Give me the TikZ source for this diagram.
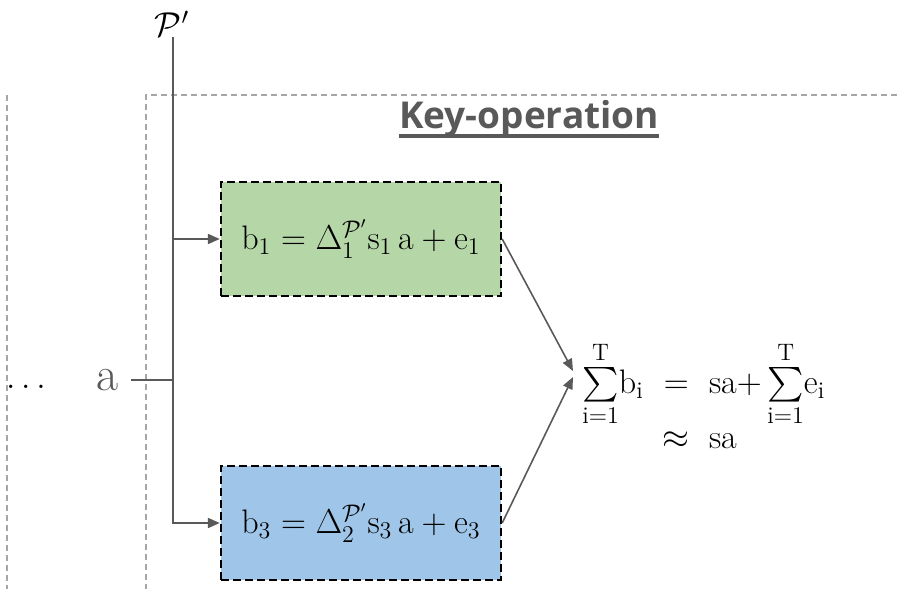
\documentclass[tikz,border=0pt]{standalone}
\usepackage{amsmath}
\usepackage{fontspec}
\usepackage{tikz}
\usetikzlibrary{arrows.meta,positioning}
\newfontfamily\headfont{Open Sans}
\definecolor{wiregray}{HTML}{595959}
\definecolor{framegray}{HTML}{A6A6A6}
\definecolor{opgreen}{HTML}{B5D7A8}
\definecolor{opblue}{HTML}{9FC5E8}

\begin{document}
\begin{tikzpicture}[x=0.5pt, y=-0.5pt,
  every node/.style={font=\fontsize{17}{20}\selectfont, inner sep=0pt},
  frame/.style={draw=framegray, line width=1pt, dash pattern=on 3pt off 2pt},
  opbox/.style={rectangle, draw=black, line width=1.2pt, dash pattern=on 4pt off 2pt,
    minimum width=140pt, minimum height=57pt},
  wire/.style={draw=wiregray, line width=1pt},
  a/.style={wire, -{Triangle[length=6pt, width=5pt]}},
  ain/.style={draw=wiregray, line width=0.8pt, -{Triangle[length=6pt, width=5pt]}}
]
\useasboundingbox (0,0) rectangle (902,589);

% dashed frames
\draw[frame] (7,95) -- (7,589);
\draw[frame] (897,95) -- (146,95) -- (146,589);

\node[font=\headfont\bfseries\fontsize{18.5}{22}\selectfont, text=wiregray] (key) at (529,119) {Key-operation};
\draw[wiregray, line width=2pt] ([yshift=-3.5pt]key.base west) -- ([yshift=-3.5pt]key.base east);

% inputs
\node[font=\fontsize{18}{21}\selectfont] (pp) at (172,24) {$\mathcal{P}'$};
\coordinate (top) at (173,47);
\node[text=wiregray, font=\fontsize{24}{28}\selectfont] (alab) at (108,380) {a};
\node[font=\fontsize{18}{21}\selectfont] (dots) at (26,387) {$\ldots$};

% operations
\node[opbox, fill=opgreen] (op1) at (361,239)
  {$\mathrm{b}_1 = \Delta_1^{\mathcal{P}'}\mathrm{s}_1\,\mathrm{a} + \mathrm{e}_1$};
\node[opbox, fill=opblue] (op3) at (361,523)
  {$\mathrm{b}_3 = \Delta_2^{\mathcal{P}'}\mathrm{s}_3\,\mathrm{a} + \mathrm{e}_3$};

\node[anchor=west, font=\fontsize{17}{20}\selectfont] (sum) at (582,400)
  {$\renewcommand{\arraystretch}{0.9}\begin{array}{@{}r@{\;\;}c@{\;\;}l@{}}
    \sum\limits_{\mathrm{i}=1}^{\mathrm{T}}\!\mathrm{b}_{\mathrm{i}} & = & \mathrm{sa}{+}\sum\limits_{\mathrm{i}=1}^{\mathrm{T}}\!\mathrm{e}_{\mathrm{i}}\\[-2pt]
    & \approx & \mathrm{sa}
  \end{array}$};
\coordinate (in1) at (573,371);
\coordinate (in3) at (573,377);

\draw[wire] (pp.south -| top) -- (top);
\draw[a] (top) |- (op3.west);
\draw[a] (top |- op1.west) -- (op1.west);
\draw[wire] (alab.east) ++(6pt,0) -- (alab.east -| top);
\draw[ain] (op1.east) -- (in1);
\draw[ain] (op3.east) -- (in3);
\end{tikzpicture}
\end{document}
